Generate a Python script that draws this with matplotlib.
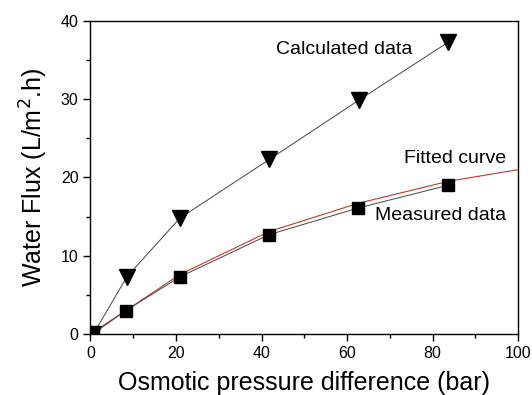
import matplotlib
matplotlib.use("Agg")
import matplotlib.pyplot as plt
from matplotlib.ticker import MultipleLocator

plt.rcParams['font.family'] = ['Liberation Sans', 'DejaVu Sans']

calc_x = [0.7, 8.5, 20.9, 41.8, 62.8, 83.7]
calc_y = [0.0, 7.3, 14.8, 22.3, 29.9, 37.3]

meas_x = [0.5, 8.3, 20.9, 41.8, 62.6, 83.6]
meas_y = [0.0, 3.0, 7.3, 12.7, 16.1, 19.0]

fit_x = [0, 8.3, 20.9, 41.8, 62.6, 83.6, 100]
fit_y = [0, 3.0, 7.6, 13.1, 16.7, 19.5, 21.0]

fig = plt.figure(figsize=(5.32, 3.95), dpi=100)
ax = fig.add_axes([0.170, 0.1544, 0.804, 0.7926])

ax.plot(fit_x, fit_y, color='#c0392b', lw=0.8, zorder=2)
ax.plot(calc_x, calc_y, color='#444444', lw=0.7, marker='v', markersize=11,
        markerfacecolor='black', markeredgecolor='black', zorder=3)
ax.plot(meas_x, meas_y, color='#444444', lw=0.7, marker='s', markersize=9,
        markerfacecolor='black', markeredgecolor='black', zorder=3)

ax.set_xlim(0, 100)
ax.set_ylim(0, 40)
ax.xaxis.set_major_locator(MultipleLocator(20))
ax.xaxis.set_minor_locator(MultipleLocator(10))
ax.yaxis.set_major_locator(MultipleLocator(10))
ax.yaxis.set_minor_locator(MultipleLocator(5))
ax.tick_params(which='major', direction='out', length=5, width=1, labelsize=11.5)
ax.tick_params(which='minor', direction='out', length=3, width=1)
for s in ax.spines.values():
    s.set_linewidth(1.0)
    s.set_zorder(4)

ax.set_xlabel('Osmotic pressure difference (bar)', fontsize=18, labelpad=7)
ax.set_ylabel('Water Flux (L/m$^2$.h)', fontsize=18, labelpad=8)

ax.text(43.3, 36.3, 'Calculated data', fontsize=14, va='center', ha='left')
ax.text(73.2, 22.4, 'Fitted curve', fontsize=14, va='center', ha='left')
ax.text(66.6, 15.2, 'Measured data', fontsize=14, va='center', ha='left')

fig.savefig('out.png', dpi=100)
